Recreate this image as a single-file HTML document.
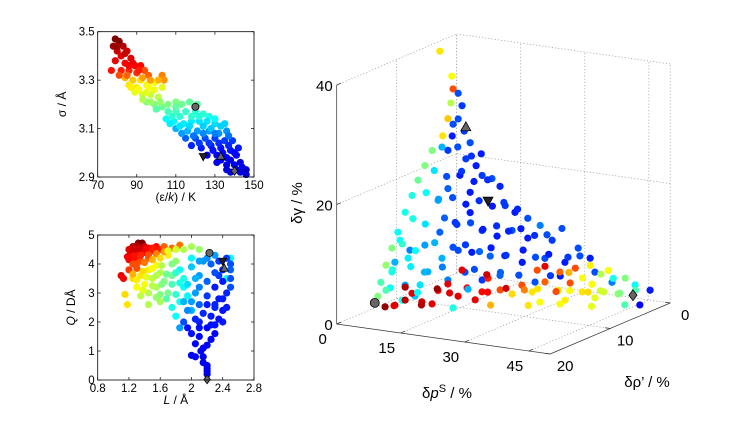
<!DOCTYPE html>
<html><head><meta charset="utf-8">
<style>
html,body{margin:0;padding:0;background:#fff;}
svg{display:block;font-family:"Liberation Sans",sans-serif;}
</style></head>
<body>
<svg id="fig" width="747" height="428" viewBox="0 0 747 428" xmlns="http://www.w3.org/2000/svg"></svg>
<script>
// ---------- DATA ----------
// Top-left panel: epsilon/k, sigma, colour value
const topEps = [79,81,78,83,80,85,82,87,79,84,89,92,77,82,86,90,94,96,103,104,
84,88,92,86,90,95,99,103,89,93,97,101,
95,99,103,110,113,117,121,100,106,110,115,120,124,127,
105,109,114,118,122,126,130,133,110,116,121,127,132,136,
115,120,125,130,135,139,118,123,128,133,138,126,131,136,141,131,136,140,144,138,143,146,
80,84,88,86,91,81,85,93,97,101,87,91,95,99,93,97,102,106,108,112,118,122,130,107,112,117,124,128,135,113,119,124,130,137,122,127,132,137,142,129,134,140,133,138,143,141,146,136,110,96];
const topSig = [3.47,3.46,3.44,3.44,3.42,3.42,3.40,3.39,3.38,3.37,3.36,3.36,3.34,3.34,3.34,3.33,3.34,3.32,3.32,3.30,
3.31,3.30,3.30,3.28,3.27,3.28,3.29,3.27,3.25,3.24,3.24,3.23,
3.21,3.20,3.19,3.21,3.20,3.21,3.20,3.18,3.17,3.17,3.17,3.17,3.16,3.15,
3.14,3.13,3.12,3.13,3.13,3.13,3.12,3.11,3.10,3.09,3.09,3.09,3.08,3.09,
3.06,3.06,3.06,3.06,3.05,3.05,3.03,3.02,3.03,3.02,3.01,2.99,2.99,2.98,2.99,2.96,2.95,2.95,2.94,2.92,2.92,2.91,
3.44,3.41,3.37,3.36,3.34,3.32,3.32,3.31,3.30,3.30,3.27,3.26,3.25,3.26,3.22,3.21,3.21,3.20,3.15,3.15,3.15,3.15,3.14,3.12,3.11,3.11,3.11,3.10,3.12,3.08,3.07,3.08,3.08,3.07,3.04,3.04,3.04,3.03,3.02,3.01,3.00,3.00,2.97,2.97,2.96,2.93,2.93,2.93,3.19,3.27];
const topC = [1,1,.97,.95,.93,.92,.9,.9,.9,.88,.88,.87,.86,.85,.84,.83,.8,.78,.75,.73,
.7,.68,.66,.65,.64,.63,.62,.6,.6,.58,.57,.56,
.5,.5,.48,.5,.48,.47,.46,.46,.44,.44,.43,.42,.42,.4,
.38,.37,.36,.36,.35,.35,.34,.33,.3,.3,.28,.28,.27,.27,
.22,.2,.2,.19,.18,.18,.16,.15,.15,.14,.14,.12,.12,.12,.11,.1,.1,.1,.1,.09,.09,.08,
.97,.93,.89,.88,.85,.8,.78,.72,.72,.7,.64,.62,.6,.61,.55,.53,.52,.5,.42,.42,.42,.41,.38,.36,.35,.34,.33,.32,.33,.28,.24,.26,.25,.24,.18,.18,.17,.16,.15,.14,.13,.13,.11,.1,.1,.09,.08,.09,.47,.62];
const topMarkers = [["circle",120,3.19],["down",124,2.985],["up",133,2.985],["diamond",140,2.925]];
const topXTicks = [70,90,110,130,150];
const topYTicks = [2.9,3.1,3.3,3.5];

// Bottom-left panel: L, Q, colour value
const botL = [1.32,1.37,1.25,1.3,1.4,
1.2,1.28,1.36,1.45,1.55,1.22,1.3,1.4,1.5,1.6,1.1,1.13,1.2,1.28,
1.25,1.35,1.45,1.65,1.75,1.85,1.2,1.3,
1.25,1.35,1.45,1.55,1.7,1.3,1.4,1.15,1.18,
1.5,1.6,1.35,1.45,1.55,1.45,1.6,1.9,2.0,2.1,1.8,
1.65,1.7,1.75,1.6,
1.75,1.85,1.9,1.85,2.0,1.8,1.95,2.5,2.45,1.9,
2.0,2.05,2.1,2.15,2.2,2.3,1.85,
2.1,2.2,2.3,2.4,2.45,2.25,2.35,2.45,2.0,2.1,2.2,2.3,2.4,1.95,2.05,2.15,2.25,2.0,2.05,2.12,2.15,2.2,2.2,2.2,2.4,2.5,2.5,2.35,2.3,2.45,
1.25,1.33,1.42,1.5,1.18,1.26,1.35,1.45,1.55,1.65,1.3,1.4,1.5,1.6,1.7,1.8,1.25,1.38,1.5,1.62,1.75,1.3,1.42,1.55,1.68,1.8,1.38,1.5,1.62,1.75,1.85,1.55,1.68,1.8,1.95,2.05,2.0,2.1,2.25,2.3,2.2,2.1,2.0,2.1,2.2,2.3,2.4,2.4,2.35,2.5,2.15,2.25,2.35,2.05,1.9,2.1,2.3,2.45,2.5,2.2,2.15,2.2,1.95,1.9];
const botQ = [4.72,4.72,4.6,4.62,4.6,
4.5,4.5,4.5,4.55,4.6,4.35,4.35,4.4,4.45,4.5,3.6,3.5,4.15,4.2,
4.0,4.1,4.2,4.6,4.55,4.65,3.8,3.85,
3.5,3.6,3.8,3.95,4.3,3.2,3.3,2.95,2.6,
3.5,3.7,2.9,3.0,3.2,2.6,2.7,4.5,4.6,4.5,4.1,
3.4,3.0,3.6,2.95,
2.5,2.7,3.2,3.8,4.2,2.2,2.9,4.2,3.5,3.5,
2.4,3.0,3.6,4.1,4.2,4.3,1.8,
2.0,2.6,3.2,3.8,4.2,2.2,2.8,3.0,1.6,1.5,1.8,1.9,2.4,1.8,1.25,1.1,1.4,0.85,0.8,1.0,0.6,0.4,0.2,0.5,2.0,3.5,4.0,3.6,2.6,2.5,
4.45,4.55,4.5,4.55,4.25,4.28,4.3,4.32,4.35,4.42,4.0,4.05,4.15,4.2,4.45,4.5,3.65,3.75,3.85,3.95,4.0,3.45,3.55,3.6,3.65,3.7,3.1,3.25,3.3,3.3,3.35,2.85,2.8,2.95,3.3,3.5,3.9,4.1,4.0,3.7,3.4,3.2,2.7,2.6,2.9,2.5,3.4,2.8,4.1,3.8,2.3,1.9,2.1,2.1,2.0,1.8,1.6,2.5,3.2,1.2,0.8,0.3,2.4,2.7];
const botC = [1,1,.95,.95,.93,
.9,.9,.9,.88,.87,.9,.88,.87,.86,.85,.9,.88,.88,.86,
.8,.8,.79,.78,.77,.76,.82,.8,
.66,.65,.64,.63,.64,.62,.62,.66,.65,
.56,.55,.56,.55,.54,.55,.54,.55,.54,.52,.52,
.5,.49,.48,.5,
.4,.4,.38,.38,.37,.38,.37,.38,.38,.4,
.3,.28,.28,.27,.27,.28,.28,
.15,.15,.15,.16,.18,.15,.15,.16,.14,.13,.13,.14,.14,.14,.12,.12,.12,.12,.12,.12,.11,.11,.11,.11,.15,.2,.2,.18,.16,.18,
.92,.93,.88,.85,.88,.86,.84,.8,.75,.72,.8,.76,.7,.66,.6,.58,.7,.66,.62,.55,.5,.64,.6,.55,.48,.42,.6,.56,.5,.45,.4,.52,.46,.42,.34,.3,.32,.28,.22,.2,.22,.25,.28,.22,.18,.16,.15,.15,.18,.22,.16,.14,.14,.16,.2,.14,.13,.15,.2,.12,.11,.11,.26,.3];
const botMarkers = [["circle",2.23,4.38],["down",2.4,4.1],["up",2.42,3.85],["diamond",2.2,0.02]];
const botXTicks = [0.8,1.2,1.6,2,2.4,2.8];
const botYTicks = [0,1,2,3,4,5];

// 3D panel: dp^S (%), d rho' (%), d gamma (%), colour value
const dP = [10.1,12.9,13.2,12.7,12,10.8,8.3,6.6,5,3.6,7.6,5.9,4.5,3.1,1.9,1.2,
14.4,15.3,14.4,13,12,17.2,16.2,18.6,20,22.3,14.8,12,9.7,17.2,25.4,27.7,30.7,33.6,17.2,13.7,10.1,6.6,20,23.5,27,30.7,36.4,38.7,
10.6,14.4,17.6,21.9,25.6,29.4,34.7,39.4,42.5,45.3,7.3,12,16,20,24.2,32.4,38.3,40.8,44.8,48.1,45.7,7.6,9.9,5.2,3.1,
6.4,8.3,4.5,4.1,11.1,6.9,
2.9,5.2,7.6,9.2,11.5,13.9,15.3,17.6,20,22.1,24,25.6,27,29.1,
18.6,21.4,23.7,26.1,29.1,32.2,35,37.8,40.1,42.9,46.2,32.6,36.2,39.7,43.9,47.9,50.2,27.9,33.8,40.8,
13.2,15.8,10.6,14.3,17.5,19.8,8.8,11.7,15.2,18.1,21.3,24.2,6.9,9.8,13.1,16.2,19.3,22.4,25.1,28.3,
5.2,8.1,11.2,14.1,17.3,20.2,23.4,26.2,29.1,32.3,35.2,
4.1,7.2,10.3,13.2,16.1,19.4,22.1,25.3,28.2,31.1,34.2,37.3,40.1,
3.2,6.1,9.3,12.1,15.3,18.2,21.1,24.3,27.2,30.1,33.2,36.1,39.3,42.2,45.1,
3.1,6.2,9.1,12.3,15.2,18.1,21.3,24.2,27.1,30.2,33.1,36.3,39.2,42.1,45.2,47.5,
5,10,16,22,28,34,40,45];
const dR = [10,10,10,10,10,10,10,10,10,10,14,14,14,14,14,14,
10,10,10,10,10,10,10,10,10,10,10,10,10,10,10,10,10,10,10,10,10,10,10,10,10,10,10,10,
10,10,10,10,10,10,10,10,10,10,10,10,10,10,10,10,10,6,6,2,2,14,14,14,10,
14,14,14,14,14,14,
14,14,14,14,14,14,14,14,14,14,14,14,14,6,
6,6,6,6,6,6,6,6,6,6,6,6,6,6,6,6,6,6,6,6,
10,10,10,10,10,10,10,10,10,10,10,10,10,10,10,10,10,10,10,10,
11,11,10,10,10,10,10,10,10,10,10,
12,12,11,10,10,10,10,10,9,9,9,8,8,
13,12,12,11,10,10,10,10,9,8,8,7,7,6,6,
14,13,13,12,12,11,10,9,8,8,7,7,6,6,5,4,
14,13,12,10,8,7,6,4];
const dG = [42.4,38.5,36.4,34,31.3,28.3,25.6,22.9,20.3,17.6,16.9,13.4,10.6,7.6,4.6,2.2,
35.8,33.8,31.5,28.5,26,27.8,25,24.1,22.6,22.3,22.1,19.6,17.4,19.5,18.1,17.2,16.5,15.6,16.1,14.1,12.1,9.6,13.4,12.8,14.1,13.2,13.4,15.6,
7.8,9.5,9.5,9.3,9.8,9,10.2,10,12.7,11.3,5.2,4.3,6,5.1,6.3,6,7.6,6.8,5.5,2.8,0.1,4.7,3.1,8.3,8.4,
12.1,9.3,6.6,3.9,5.1,2.1,
0.6,1.1,2.2,3.5,2.3,2.2,4.6,5.9,4.1,5.7,3.9,5.4,7.8,6.6,
1.6,1.2,2.9,2,4,2.9,4.4,3.2,4.7,3.7,3.7,6,7,7.8,7.4,6.5,5.6,0.5,1.4,2.5,
30.5,29.6,26.4,26.8,25.6,26.2,22.3,21.6,22.8,21.4,22.0,21.2,18.4,17.6,18.2,17.4,18.3,17.7,18.6,17.8,
14.3,13.7,14.6,13.8,14.4,13.6,14.5,13.9,14.6,13.8,14.2,
10.4,9.6,10.8,9.9,10.6,9.8,10.7,9.7,10.5,9.6,10.4,9.8,10.3,
6.4,6.8,6.2,6.9,6.3,6.7,6.1,6.8,6.2,6.9,6.3,6.7,6.1,6.6,6.2,
3.4,3.8,3.2,3.7,3.3,3.8,3.2,3.7,3.3,3.8,3.2,3.7,3.3,3.8,3.3,3.6,
1,1.2,0.9,1.1,0.8,1.2,1,0.9];
const dC = [.65,.62,.8,.55,.68,.65,.5,.5,.48,.4,.4,.38,.5,.52,.45,.5,
.2,.18,.2,.15,.18,.2,.18,.15,.18,.2,.15,.22,.3,.15,.18,.15,.2,.25,.15,.18,.22,.28,.18,.15,.2,.15,.18,.2,
.3,.2,.15,.22,.18,.15,.2,.15,.2,.15,.3,.25,.2,.18,.22,.2,.15,.2,.25,.15,.12,.28,.32,.3,.25,
.38,.36,.4,.38,.35,.4,
.98,.93,.95,.9,.92,.9,.88,.9,.9,.88,.9,.87,.85,.9,
.8,.66,.8,.65,.78,.65,.8,.65,.62,.58,.52,.78,.8,.64,.62,.5,.38,.62,.64,.6,
.2,.18,.3,.2,.17,.15,.35,.2,.18,.15,.17,.16,.38,.28,.2,.15,.17,.15,.18,.16,
.4,.35,.22,.18,.2,.15,.17,.16,.15,.17,.2,
.42,.38,.3,.2,.18,.22,.15,.17,.15,.2,.15,.18,.2,
.4,.36,.3,.25,.9,.2,.92,.22,.2,.8,.18,.7,.62,.55,.4,
.45,.95,.38,.97,.9,.3,.88,.92,.75,.65,.8,.62,.66,.58,.5,.45,
.9,.95,.4,.7,.65,.62,.6,.45];
const dMarkers = [["circle",6.1,18,3.3],["up",16.2,10,30.3],["down",21.4,10,18.5],["diamond",46.9,4,2.7]];
const dPTicks = [0,15,30,45];
const dRTicks = [0,10,20];
const dGTicks = [0,20,40];

// ---------- DRAWING ----------
const NS="http://www.w3.org/2000/svg";
const svg=document.getElementById('fig');
function mk(tag,attrs,parent){const e=document.createElementNS(NS,tag);for(const k in attrs)e.setAttribute(k,attrs[k]);(parent||svg).appendChild(e);return e;}
function jet(v){v=Math.max(0,Math.min(1,v));
 const r=Math.max(0,Math.min(1,Math.min(4*v-1.5,-4*v+4.5)));
 const g=Math.max(0,Math.min(1,Math.min(4*v-0.5,-4*v+3.5)));
 const b=Math.max(0,Math.min(1,Math.min(4*v+0.5,-4*v+2.5)));
 return `rgb(${Math.round(r*255)},${Math.round(g*255)},${Math.round(b*255)})`;}
function marker(g,type,x,y,s){
 let e;
 if(type==="circle"){e=mk('circle',{cx:x,cy:y,r:s},g);}
 else if(type==="up"){e=mk('polygon',{points:`${x},${y-s*1.2} ${x-s*1.1},${y+s*0.8} ${x+s*1.1},${y+s*0.8}`},g);}
 else if(type==="down"){e=mk('polygon',{points:`${x},${y+s*1.2} ${x-s*1.1},${y-s*0.8} ${x+s*1.1},${y-s*0.8}`},g);}
 else {e=mk('polygon',{points:`${x},${y-s*1.2} ${x+s*0.9},${y} ${x},${y+s*1.2} ${x-s*0.9},${y}`},g);}
 e.setAttribute('fill',type==="down"?'#222':'#666');
 e.setAttribute('stroke','#000');e.setAttribute('stroke-width','0.8');
 
 
 return e;}

function panel2d(name,box,xd,yd,X,Y,C,markers,xt,yt,xlabel,ylabel,ylabX){
 const g=mk('g',{});
 
 
 const sx=v=>box.x0+(v-xd[0])/(xd[1]-xd[0])*(box.x1-box.x0);
 const sy=v=>box.y1-(v-yd[0])/(yd[1]-yd[0])*(box.y1-box.y0);
 const pts=mk('g',{},g);
 
 
 for(let i=0;i<X.length;i++){
  const c=mk('circle',{cx:sx(X[i]),cy:sy(Y[i]),r:3.6,fill:jet(C[i])},pts);
  
  
 }
 markers.forEach(m=>marker(g,m[0],sx(m[1]),sy(m[2]),3.6));
 const fr=mk('rect',{x:box.x0,y:box.y0,width:box.x1-box.x0,height:box.y1-box.y0,fill:'none',stroke:'#000','stroke-width':0.8},g);
 
 
 xt.forEach(v=>{const x=sx(v);
  mk('line',{x1:x,x2:x,y1:box.y1,y2:box.y1-3,stroke:'#000','stroke-width':0.7},g);
  mk('line',{x1:x,x2:x,y1:box.y0,y2:box.y0+3,stroke:'#000','stroke-width':0.7},g);
  const t=mk('text',{x:x,y:box.y1+12,'font-size':11.5,'text-anchor':'middle'},g);t.textContent=String(v);
  
  });
 yt.forEach(v=>{const y=sy(v);
  mk('line',{x1:box.x0,x2:box.x0+3,y1:y,y2:y,stroke:'#000','stroke-width':0.7},g);
  mk('line',{x1:box.x1,x2:box.x1-3,y1:y,y2:y,stroke:'#000','stroke-width':0.7},g);
  const t=mk('text',{x:box.x0-3,y:y+4,'font-size':11.5,'text-anchor':'end'},g);t.textContent=String(v);
  
  });
 const xl=mk('text',{x:(box.x0+box.x1)/2,y:box.y1+24,'font-size':12,'text-anchor':'middle'},g);xl.innerHTML=xlabel;
 
 
 const cy=(box.y0+box.y1)/2;
 const yl=mk('text',{x:ylabX,y:cy,'font-size':12,'text-anchor':'middle',transform:`rotate(-90 ${ylabX} ${cy})`},g);yl.innerHTML=ylabel;
 
 
}
panel2d('sigma-epsilon-panel',{x0:97.7,x1:254,y0:31.7,y1:177},[70,150],[2.9,3.5],topEps,topSig,topC,topMarkers,topXTicks,topYTicks,'(ε/<tspan font-style="italic">k</tspan>) / K','σ / Å',66);
panel2d('quadrupole-length-panel',{x0:97.7,x1:254,y0:235,y1:380},[0.8,2.8],[0,5],botL,botQ,botC,botMarkers,botXTicks,botYTicks,'<tspan font-style="italic">L</tspan> / Å','<tspan font-style="italic">Q</tspan> / DÅ',75);

// 3D panel
const g3=mk('g',{});


const O={x:336.7,y:324};
function P(p,r,gm){const q=20-r;return [O.x+4.27*p+6*q, O.y+0.6*p-2.55*q-5.975*gm];}
function line3(a,b,dotted,w){const A=P(...a),B=P(...b);
 const l=mk('line',{x1:A[0],y1:A[1],x2:B[0],y2:B[1],stroke:dotted?'#999':'#333','stroke-width':w||0.7},g3);
 if(dotted)l.setAttribute('stroke-dasharray','1.2 2');
 
 }
[0,15,30,45,50].forEach(p=>line3([p,0,0],[p,0,40],true));
[20,40].forEach(z=>line3([0,0,z],[50,0,z],true));
[10,0].forEach(r=>line3([0,r,0],[0,r,40],true));
[20,40].forEach(z=>line3([0,20,z],[0,0,z],true));
[15,30,45].forEach(p=>line3([p,20,0],[p,0,0],true));
[10,0].forEach(r=>line3([0,r,0],[50,r,0],true));
line3([0,0,0],[0,20,0],true);
line3([0,20,0],[0,20,40],false);
line3([0,20,0],[50,20,0],false);
line3([50,20,0],[50,0,0],false);
const pg=mk('g',{},g3);


for(let i=0;i<dP.length;i++){const s=P(dP[i],dR[i],dG[i]);
 const c=mk('circle',{cx:s[0],cy:s[1],r:3.6,fill:jet(dC[i])},pg);
 
 }
dMarkers.forEach(m=>{const s=P(m[1],m[2],m[3]);marker(g3,m[0],s[0],s[1],4.5);});
function txt(x,y,s,anchor,name,size){const t=mk('text',{x:x,y:y,'font-size':size||15,'text-anchor':anchor},g3);t.innerHTML=s;
 
 return t;}
dGTicks.forEach(v=>{const s=P(0,20,v);line3([0,20,v],[0,19.3,v],false);txt(s[0]-4,s[1]+6,String(v),'end','z-tick-label');});
dPTicks.forEach(v=>{const s=P(v,20,0);line3([v,20,0],[v,19.3,0],false);
 txt(s[0]-14, s[1]+20,String(v),'middle','x-tick-label');});
dRTicks.forEach(v=>{const s=P(50,v,0);line3([50,v,0],[48.8,v,0],false);txt(s[0]+15,s[1]+17,String(v),'middle','y-tick-label');});
txt(447,398,'δ<tspan font-style="italic">p</tspan><tspan font-size="11" dy="-6">S</tspan><tspan dy="6"> / %</tspan>','middle','x-axis-title',15);
txt(647,387,'δρ’ / %','middle','y-axis-title',15);
const zl=txt(302,203,'δγ / %','middle','z-axis-title',15);
zl.setAttribute('transform','rotate(-90 302 203)');
</script>
</body></html>
